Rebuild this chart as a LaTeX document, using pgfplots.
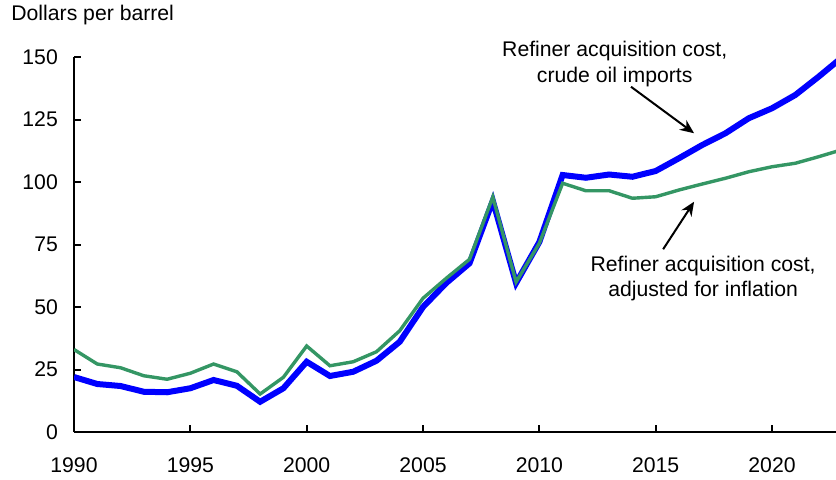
\documentclass[border=0pt]{standalone}
\usepackage{pgfplots}
\pgfplotsset{compat=1.18}
\usepackage{fontspec}
\setmainfont{Liberation Sans}
\usetikzlibrary{arrows.meta}
\definecolor{rblue}{RGB}{0,0,255}
\definecolor{rgreen}{RGB}{52,150,100}
\begin{document}
\fontsize{10.6}{12.75}\selectfont
\begin{tikzpicture}
\begin{axis}[
  scale only axis, width=381pt, height=187.5pt,
  xmin=1990, xmax=2022.75, ymin=0, ymax=150,
  axis x line=bottom, axis y line=left,
  axis line style={line width=1.2pt, -},
  xtick={1990,1995,...,2020}, ytick={0,25,...,150},
  x tick label style={/pgf/number format/1000 sep={}, yshift=-9pt},
  y tick label style={xshift=-4.35pt},
  tick style={line width=1pt, black},
  tick align=inside, major tick length=3.5pt,
  /pgf/number format/assume math mode=true,
  tick label style={font=\fontsize{10.6}{12.75}\selectfont},
  clip mode=individual,
]
\addplot[rblue, line width=3pt] coordinates {
(1990,22.0) (1991,19.2) (1992,18.4) (1993,16.1) (1994,15.9) (1995,17.5)
(1996,20.8) (1997,18.5) (1998,12.1) (1999,17.5) (2000,28.1) (2001,22.4)
(2002,24.1) (2003,28.5) (2004,36.1) (2005,50.0) (2006,59.6) (2007,67.5)
(2008,92.5) (2009,59.6) (2010,76.0) (2011,102.8) (2012,101.7) (2013,103.0)
(2014,102.1) (2015,104.4) (2016,109.5) (2017,114.8) (2018,119.5) (2019,125.5)
(2020,129.5) (2021,134.8) (2022,142.1) (2023,149.8)};
\addplot[rgreen, line width=1.7pt] coordinates {
(1990,33.0) (1991,27.2) (1992,25.7) (1993,22.5) (1994,21.1) (1995,23.5)
(1996,27.2) (1997,24.1) (1998,15.2) (1999,21.9) (2000,34.4) (2001,26.5)
(2002,28.1) (2003,32.1) (2004,40.5) (2005,53.5) (2006,61.5) (2007,69.1)
(2008,94.0) (2009,60.0) (2010,75.5) (2011,99.5) (2012,96.5) (2013,96.5)
(2014,93.5) (2015,94.1) (2016,96.8) (2017,99.2) (2018,101.5) (2019,104.1)
(2020,106.1) (2021,107.5) (2022,110.1) (2023,112.9)};
\node[anchor=base west, inner sep=0pt] at ([xshift=-31.5pt,yshift=18.5pt]rel axis cs:0,1) {Dollars per barrel};
\node[anchor=base, inner sep=0pt] at (axis cs:2013.24,150.1) {Refiner acquisition cost,};
\node[anchor=base, inner sep=0pt] at (axis cs:2013.24,139.7) {crude oil imports};
\node[anchor=base, inner sep=0pt] at (axis cs:2017.04,64.1) {Refiner acquisition cost,};
\node[anchor=base, inner sep=0pt] at (axis cs:2017.04,54.1) {adjusted for inflation};
\draw[line width=1pt, -{Stealth[length=7pt,width=6pt]}] (axis cs:2013.94,138.1) -- (axis cs:2016.65,119.5);
\draw[line width=1pt, -{Stealth[length=7pt,width=6pt]}] (axis cs:2015.32,73.1) -- (axis cs:2016.65,92.1);
\end{axis}
\pgfresetboundingbox
\path[use as bounding box] (-37pt,-23.5pt) rectangle (381pt,216pt);
\end{tikzpicture}
\end{document}
